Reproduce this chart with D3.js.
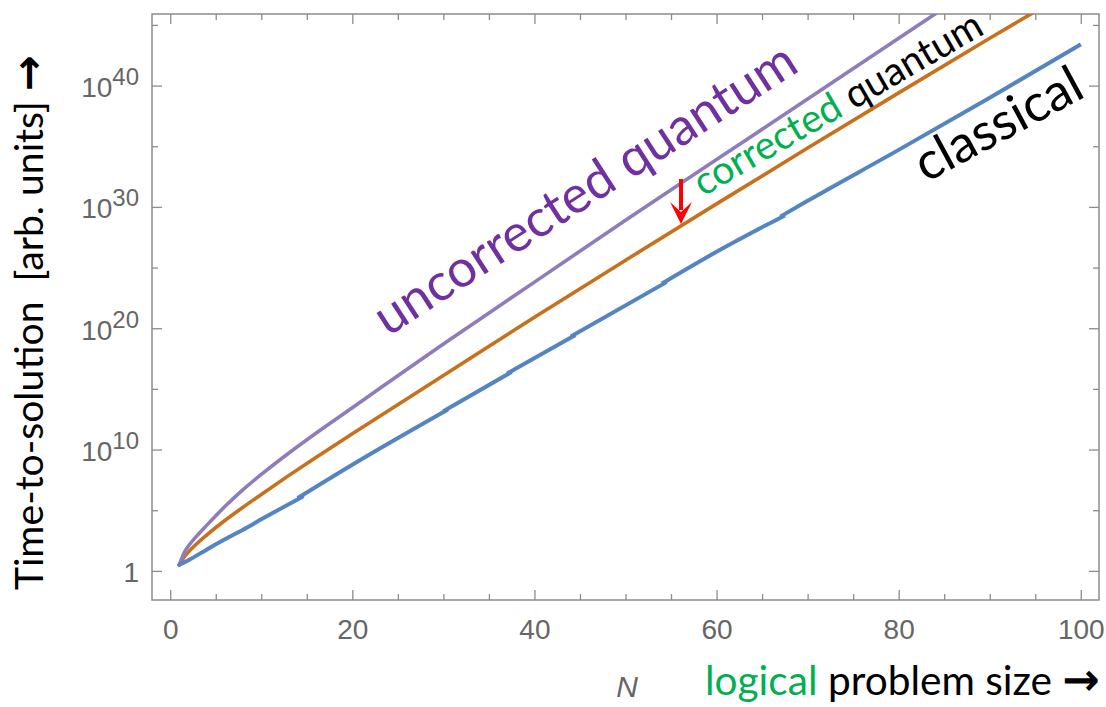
<!DOCTYPE html>
<html><head><meta charset="utf-8">
<script src="https://cdn.jsdelivr.net/npm/d3@7"></script>
<style>
html,body{margin:0;padding:0;background:#fff;}
svg{display:block;}
</style></head>
<body>
<svg id="chart" width="1106" height="707"></svg>
<script>
// ---- data (log10 of time-to-solution) ----
// classical curve is drawn as overlapping pieces (small visible offsets in the original)
const classicalPieces = [
  {N: [1, 2, 4, 6, 8, 10, 14.5], L: [0.5, 0.88, 1.75, 2.6, 3.4, 4.25, 6.1]},
  {N: [14, 20, 30.5],            L: [6.0, 8.75, 13.3]},
  {N: [30, 37.5],                L: [13.15, 16.4]},
  {N: [37, 44.5],                L: [16.27, 19.45]},
  {N: [44, 54.5],                L: [19.32, 23.8]},
  {N: [54, 60, 67.5],            L: [23.68, 26.3, 29.3]},
  {N: [67, 70, 80, 90, 100],     L: [29.2, 30.5, 34.7, 39.0, 43.4]}
];

const N_corrected = [1, 1.5, 2, 3, 4, 6, 8, 10, 13, 16, 20, 30, 40, 50, 60, 70, 80, 90, 97];
const L_corrected = [0.5, 1.1, 1.55, 2.3, 2.95, 4.15, 5.25, 6.3, 7.85, 9.35, 11.3, 16.1, 20.9, 25.6, 30.25, 34.85, 39.4, 43.9, 47.0];

const N_uncorrected = [1, 1.5, 2, 3, 4, 6, 8, 10, 13, 16, 20, 30, 40, 50, 60, 70, 80, 87];
const L_uncorrected = [0.5, 1.45, 2.05, 2.95, 3.75, 5.3, 6.7, 7.95, 9.7, 11.35, 13.45, 18.7, 23.8, 28.9, 33.9, 38.9, 43.9, 47.4];

const xMajorTicks = [0, 20, 40, 60, 80, 100];
const xMinorTicks = [5, 10, 15, 25, 30, 35, 45, 50, 55, 65, 70, 75, 85, 90, 95];
const yMajorExp = [0, 10, 20, 30, 40];
const yMinorExp = [5, 15, 25, 35, 45];

// ---- layout ----
const L = 152, T = 14, R = 1099, B = 600;
const svg = d3.select("#chart");
const x = d3.scaleLinear().domain([-2, 102]).range([L, R]);
const y = d3.scaleLog().domain([Math.pow(10, -2.4), Math.pow(10, 45.9)]).range([B, T]);

const frameColor = "#8c8c8c";
const tickLabelColor = "#666666";
const arial = "'Liberation Sans',Arial,sans-serif";
const sans = "Lato,'Open Sans','Noto Sans',sans-serif";

svg.append("defs").append("clipPath").attr("id", "clip")
  .append("rect").attr("x", L).attr("y", T).attr("width", R - L).attr("height", B - T);

// ---- axes ----
function styleAxis(g) {
  g.select(".domain").remove();
  g.selectAll(".tick line").attr("stroke", frameColor).attr("stroke-width", 1.3);
}
svg.append("g").attr("transform", `translate(0,${B})`)
  .call(d3.axisBottom(x).tickValues(xMajorTicks).tickSizeInner(-10).tickSizeOuter(0).tickPadding(19))
  .call(styleAxis)
  .call(g => g.selectAll("text").attr("fill", tickLabelColor).attr("font-size", 28).attr("font-family", arial));
svg.append("g").attr("transform", `translate(0,${B})`)
  .call(d3.axisBottom(x).tickValues(xMinorTicks).tickSizeInner(-6).tickSizeOuter(0).tickFormat(""))
  .call(styleAxis);
svg.append("g").attr("transform", `translate(0,${T})`)
  .call(d3.axisTop(x).tickValues(xMajorTicks).tickSizeInner(-10).tickSizeOuter(0).tickFormat(""))
  .call(styleAxis);
svg.append("g").attr("transform", `translate(0,${T})`)
  .call(d3.axisTop(x).tickValues(xMinorTicks).tickSizeInner(-6).tickSizeOuter(0).tickFormat(""))
  .call(styleAxis);
const yMaj = yMajorExp.map(e => Math.pow(10, e));
const yMin = yMinorExp.map(e => Math.pow(10, e));
const leftAx = svg.append("g").attr("transform", `translate(${L},0)`)
  .call(d3.axisLeft(y).tickValues(yMaj).tickSizeInner(-10).tickSizeOuter(0).tickPadding(13).tickFormat(""))
  .call(styleAxis);
leftAx.selectAll(".tick text").each(function(d) {
  const t = d3.select(this);
  const e = Math.round(Math.log10(d));
  t.attr("fill", tickLabelColor).attr("font-family", arial).attr("font-size", 28)
   .attr("text-anchor", "end").attr("dy", null).attr("y", 11).attr("x", -13);
  t.text(null);
  if (e === 0) { t.text("1"); }
  else {
    t.append("tspan").text("10");
    t.append("tspan").attr("dy", -12).attr("font-size", 24).text(String(e));
  }
});
svg.append("g").attr("transform", `translate(${L},0)`)
  .call(d3.axisLeft(y).tickValues(yMin).tickSizeInner(-6).tickSizeOuter(0).tickFormat(""))
  .call(styleAxis);
svg.append("g").attr("transform", `translate(${R},0)`)
  .call(d3.axisRight(y).tickValues(yMaj).tickSizeInner(-10).tickSizeOuter(0).tickFormat(""))
  .call(styleAxis);
svg.append("g").attr("transform", `translate(${R},0)`)
  .call(d3.axisRight(y).tickValues(yMin).tickSizeInner(-6).tickSizeOuter(0).tickFormat(""))
  .call(styleAxis);

svg.append("rect").attr("x", L).attr("y", T).attr("width", R - L).attr("height", B - T)
  .attr("fill", "none").attr("stroke", frameColor).attr("stroke-width", 1.5);

// ---- curves ----
const line = d3.line().x(d => x(d[0])).y(d => y(Math.pow(10, d[1]))).curve(d3.curveMonotoneX);
const curves = svg.append("g").attr("clip-path", "url(#clip)");
[
  {n: N_corrected, l: L_corrected, color: "#c8711d", w: 3.6},
  {n: N_uncorrected, l: L_uncorrected, color: "#8f7dbb", w: 3.6}
].forEach(s => {
  curves.append("path").datum(s.n.map((v, i) => [v, s.l[i]]))
    .attr("d", line).attr("fill", "none").attr("stroke", s.color)
    .attr("stroke-width", s.w).attr("stroke-linejoin", "round").attr("stroke-linecap", "round");
});
classicalPieces.forEach((p, k) => {
  curves.append("path").datum(p.N.map((v, i) => [v, p.L[i]]))
    .attr("d", line).attr("fill", "none").attr("stroke", "#5484c2")
    .attr("stroke-width", 4).attr("stroke-linejoin", "round")
    .attr("stroke-linecap", k === 0 ? "round" : "butt");
});

// ---- annotations ----
function fitText(sel, targetLen) {
  const fs = parseFloat(sel.attr("font-size"));
  const len = sel.node().getComputedTextLength();
  sel.attr("font-size", fs * targetLen / len);
}
function rotLabel(x0, y0, x1, y1, parts, fam) {
  const ang = Math.atan2(y1 - y0, x1 - x0) * 180 / Math.PI;
  const len = Math.hypot(x1 - x0, y1 - y0);
  const t = svg.append("text").attr("transform", `translate(${x0},${y0}) rotate(${ang})`)
    .attr("font-family", fam).attr("font-size", 40);
  parts.forEach(p => t.append("tspan").attr("fill", p[1]).text(p[0]));
  fitText(t, len);
  return t;
}
rotLabel(388, 337, 801, 70, [["uncorrected quantum", "#7030a0"]], sans);
rotLabel(703, 197, 986, 33, [["corrected ", "#00b050"], ["quantum", "#000"]], sans);
rotLabel(926, 183, 1087, 96, [["classical", "#000"]], sans);

// red arrow
const ax = 681, ay0 = 179, ay1 = 224;
svg.append("line").attr("x1", ax).attr("x2", ax).attr("y1", ay0).attr("y2", ay1 - 14)
  .attr("stroke", "#ff0000").attr("stroke-width", 4);
svg.append("path").attr("d", `M${ax - 11},${ay1 - 22} L${ax},${ay1 - 12} L${ax + 11},${ay1 - 22} L${ax},${ay1} Z`)
  .attr("fill", "#ff0000");

// axis titles
const yt = svg.append("text").attr("transform", "translate(43,590) rotate(-90)")
  .attr("font-family", sans).attr("font-size", 30).attr("fill", "#000");
yt.append("tspan").text("Time-to-solution\u00a0\u00a0[arb. units] ");
yt.append("tspan").attr("font-family", "'DejaVu Sans'").attr("font-weight", "bold")
  .attr("font-size", "1.1em").text("\u2192");
fitText(yt, 535);

svg.append("text").attr("x", 627).attr("y", 697).attr("text-anchor", "middle")
  .attr("font-family", arial).attr("font-style", "italic").attr("font-size", 30)
  .attr("fill", tickLabelColor).text("N");

const xt = svg.append("text").attr("x", 705).attr("y", 695)
  .attr("font-family", sans).attr("font-size", 30);
xt.append("tspan").attr("fill", "#00b050").text("logical");
xt.append("tspan").attr("fill", "#000").text(" problem size ");
xt.append("tspan").attr("fill", "#000").attr("font-family", "'DejaVu Sans'").attr("font-weight", "bold")
  .attr("font-size", "1.1em").text("\u2192");
fitText(xt, 395);
</script>
</body></html>
